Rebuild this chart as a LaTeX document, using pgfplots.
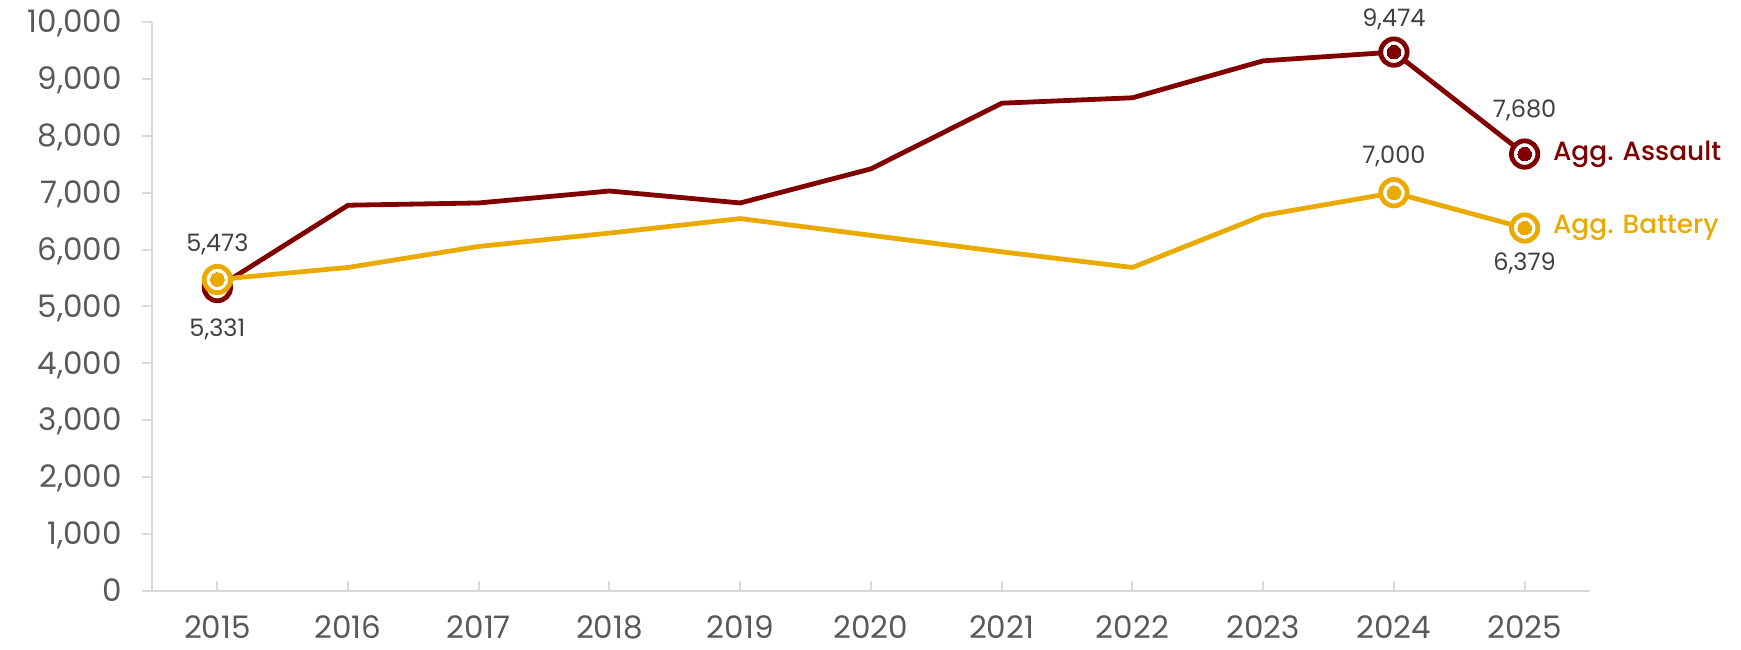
\documentclass[border=0pt]{standalone}
\usepackage{fontspec}
\setmainfont{Poppins}
\newfontfamily\medfont{Poppins}[UprightFont=* Medium]
\usepackage{pgfplots}
\pgfplotsset{compat=1.18}
\definecolor{assault}{HTML}{800000}
\definecolor{battery}{HTML}{EAAA00}
\definecolor{ticktext}{HTML}{595959}
\definecolor{labeltext}{HTML}{404040}
\definecolor{axisgray}{HTML}{D9D9D9}
\begin{document}
\begin{tikzpicture}
\useasboundingbox (0,0) rectangle (870.5pt,324.5pt);
\begin{axis}[
  at={(76pt,29.2pt)}, anchor=south west,
  width=719pt, height=284.2pt, scale only axis,
  xmin=2014.5, xmax=2025.5, ymin=0, ymax=10000,
  axis x line*=bottom, axis y line*=left,
  axis line style={draw=axisgray, line width=1pt},
  xtick={2015,...,2025}, ytick={0,1000,...,10000},
  scaled y ticks=false,
  tick align=inside, major tick length=5pt,
  tick style={draw=axisgray, line width=1pt},
  major y tick style={xshift=-5pt},
  ticklabel style={font=\fontsize{15.5}{18}\selectfont, text=ticktext, inner sep=0pt},
  /pgf/number format/assume math mode=true,
  x tick label style={/pgf/number format/.cd, 1000 sep={}, /tikz/.cd, anchor=base, yshift=-24pt},
  y tick label style={/pgf/number format/.cd, fixed, 1000 sep={,}, /tikz/.cd, anchor=base east, xshift=-15pt, yshift=-5.4pt},
  clip=false,
]
\addplot[assault, line width=2.4pt, no marks] coordinates {
  (2015,5331)(2016,6780)(2017,6820)(2018,7030)(2019,6820)(2020,7420)
  (2021,8575)(2022,8670)(2023,9320)(2024,9474)(2025,7680)};
\addplot[battery, line width=2.4pt, no marks] coordinates {
  (2015,5473)(2016,5685)(2017,6055)(2018,6290)(2019,6545)(2020,6250)
  (2021,5960)(2022,5685)(2023,6600)(2024,7000)(2025,6379)};
\addplot[only marks, mark=*, mark size=6.6pt, draw=assault, fill=white, line width=2.4pt]
  coordinates {(2015,5331)(2024,9474)(2025,7680)};
\addplot[only marks, mark=*, mark size=3.4pt, draw=assault, fill=assault, line width=0pt]
  coordinates {(2015,5331)(2024,9474)(2025,7680)};
\addplot[only marks, mark=*, mark size=6.6pt, draw=battery, fill=white, line width=2.4pt]
  coordinates {(2015,5473)(2024,7000)(2025,6379)};
\addplot[only marks, mark=*, mark size=3.4pt, draw=battery, fill=battery, line width=0pt]
  coordinates {(2015,5473)(2024,7000)(2025,6379)};
\begin{scope}[every node/.style={font=\fontsize{12}{14}\selectfont, text=labeltext, inner sep=0pt}]
\node[yshift=17.5pt] at (axis cs:2015,5473) {5,473};
\node[yshift=-21pt] at (axis cs:2015,5331) {5,331};
\node[yshift=16.5pt] at (axis cs:2024,9474) {9,474};
\node[yshift=22pt] at (axis cs:2025,7680) {7,680};
\node[yshift=18pt] at (axis cs:2024,7000) {7,000};
\node[yshift=-17.5pt] at (axis cs:2025,6379) {6,379};
\end{scope}
\node[anchor=west, inner sep=0pt, xshift=14pt, text=assault, font=\fontsize{13.2}{15}\medfont] at (axis cs:2025,7680) {Agg. Assault};
\node[anchor=west, inner sep=0pt, xshift=14pt, text=battery, font=\fontsize{13.2}{15}\medfont] at (axis cs:2025,6379) {Agg. Battery};
\end{axis}
\end{tikzpicture}
\end{document}
